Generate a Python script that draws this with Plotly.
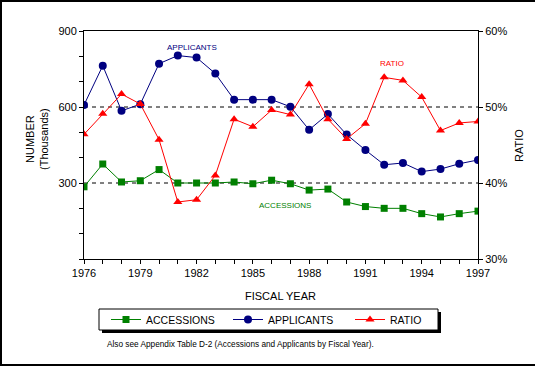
import plotly.graph_objects as go

years = list(range(1976, 1998))
accessions = [285, 375, 304, 309, 353, 300, 300, 300, 304, 297, 311,
              297, 272, 276, 225, 207, 200, 200, 179, 166, 179, 189]
applicants = [608, 763, 585, 611, 771, 803, 795, 732, 629, 629, 629,
              601, 510, 572, 491, 430, 372, 379, 345, 355, 376, 391]
ratio = [46.4, 49.1, 51.7, 50.4, 45.7, 37.5, 37.8, 41.0, 48.4, 47.4, 49.6,
         49.0, 53.0, 48.4, 45.8, 47.8, 53.9, 53.5, 51.3, 46.9, 47.9, 48.1]

x_tick_vals = years
x_tick_text = [str(y) if (y - 1976) % 3 == 0 else "" for y in years]
left_tick_vals = list(range(0, 1000, 100))
left_tick_text = [str(v) if v in (300, 600, 900) else "" for v in left_tick_vals]
right_tick_vals = [30, 40, 50, 60]
right_tick_text = ["30%", "40%", "50%", "60%"]

W, H = 535, 367
L, R, T, B = 84, 478, 31, 259
FONT = "Liberation Sans, Arial, sans-serif"


def px(x):
    return (x - L) / (R - L)


def py(y):
    return (B - y) / (B - T)


GREEN, NAVY, RED = "#008000", "#000080", "#FF0000"

fig = go.Figure()
fig.add_trace(go.Scatter(x=years, y=accessions, name="ACCESSIONS", mode="lines+markers",
                         line=dict(color=GREEN, width=1),
                         marker=dict(symbol="square", size=7, color=GREEN)))
fig.add_trace(go.Scatter(x=years, y=applicants, name="APPLICANTS", mode="lines+markers",
                         line=dict(color=NAVY, width=1),
                         marker=dict(symbol="circle", size=8, color=NAVY)))
fig.add_trace(go.Scatter(x=years, y=ratio, name="RATIO", mode="lines+markers", yaxis="y2",
                         line=dict(color=RED, width=1),
                         marker=dict(symbol="triangle-up", size=8, color=RED)))

shapes = []
for g in (300, 600):
    shapes.append(dict(type="line", xref="paper", yref="y", x0=0, x1=1, y0=g, y1=g,
                       line=dict(color="black", width=1, dash="4px,4px"), layer="below"))
# outer frame (top, left, bottom)
for (x0, y0, x1, y1) in [(0, 1, W, 1), (1, 0, 1, 366), (0, 365, W, 365)]:
    shapes.append(dict(type="line", xref="paper", yref="paper",
                       x0=px(x0), x1=px(x1), y0=py(y0), y1=py(y1),
                       line=dict(color="black", width=2)))
# legend box with shadow
shapes.append(dict(type="rect", xref="paper", yref="paper",
                   x0=px(102), x1=px(441), y0=py(333), y1=py(312),
                   fillcolor="black", line=dict(width=0)))
shapes.append(dict(type="rect", xref="paper", yref="paper",
                   x0=px(99), x1=px(438), y0=py(330), y1=py(309),
                   fillcolor="white", line=dict(color="black", width=1)))

C = dict(xanchor="center", yanchor="middle", showarrow=False)
annotations = [
    dict(text="APPLICANTS", x=1981.76, y=833, xref="x", yref="y",
         font=dict(size=8, color=NAVY, family=FONT), **C),
    dict(text="RATIO", x=1992.42, y=770, xref="x", yref="y",
         font=dict(size=8, color=RED, family=FONT), **C),
    dict(text="ACCESSIONS", x=1986.71, y=213, xref="x", yref="y",
         font=dict(size=8, color=GREEN, family=FONT), **C),
    dict(text="NUMBER<br>(Thousands)", x=px(37), y=py(139), xref="paper", yref="paper",
         textangle=-90, font=dict(size=11, color="black", family=FONT), **C),
    dict(text="RATIO", x=px(519), y=py(146), xref="paper", yref="paper",
         textangle=-90, font=dict(size=11, color="black", family=FONT), **C),
    dict(text="FISCAL YEAR", x=px(280), y=py(296), xref="paper", yref="paper",
         font=dict(size=11, color="black", family=FONT), **C),
    dict(text="Also see Appendix Table D-2 (Accessions and Applicants by Fiscal Year).",
         x=px(105), y=py(344), xref="paper", yref="paper", xanchor="left", yanchor="middle",
         showarrow=False, font=dict(size=8.25, color="black", family=FONT)),
]

fig.update_layout(
    width=W, height=H,
    margin=dict(l=L, r=W - R, t=T, b=H - B),
    paper_bgcolor="white", plot_bgcolor="white",
    font=dict(family=FONT, size=11, color="black"),
    showlegend=True,
    legend=dict(orientation="h", x=px(106), y=py(305), xanchor="left", yanchor="top",
                bgcolor="rgba(0,0,0,0)", borderwidth=0, font=dict(size=10.5),
                entrywidth=77, entrywidthmode="pixels"),
    xaxis=dict(range=[1976, 1997], tickvals=x_tick_vals, ticktext=x_tick_text,
               showgrid=False, zeroline=False, showline=True, linecolor="black",
               linewidth=1, mirror=True, ticks="outside", ticklen=4, tickcolor="black"),
    yaxis=dict(range=[0, 900], tickvals=left_tick_vals, ticktext=left_tick_text,
               showgrid=False, zeroline=False, showline=True, linecolor="black",
               linewidth=1, ticks="outside", ticklen=4, tickcolor="black"),
    yaxis2=dict(range=[30, 60], tickvals=right_tick_vals, ticktext=right_tick_text,
                overlaying="y", side="right", showgrid=False, zeroline=False,
                showline=True, linecolor="black", linewidth=1, ticks="outside",
                ticklen=4, tickcolor="black"),
    shapes=shapes,
    annotations=annotations,
)

fig.write_html("out.html", config={"displayModeBar": False},
               post_script=("document.documentElement.style.overflow='hidden';"
                            "document.body.style.overflow='hidden';"
                            "document.body.style.margin='0';document.body.style.padding='0';"))
